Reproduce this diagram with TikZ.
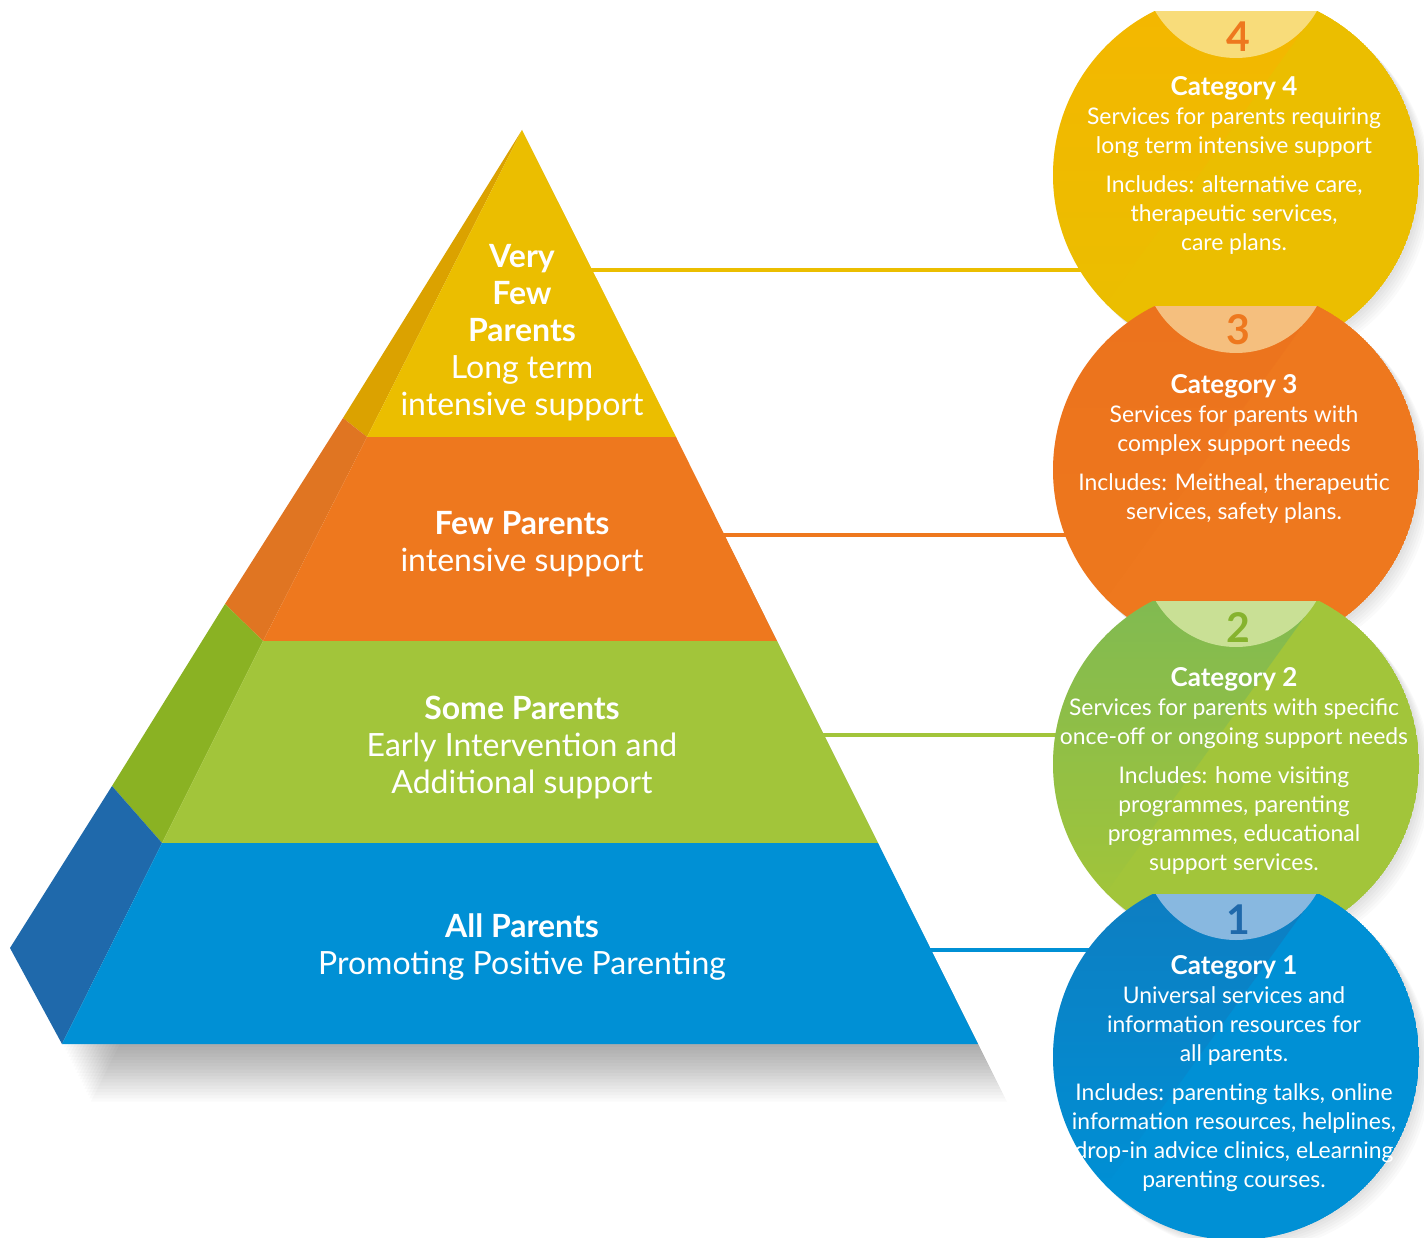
\documentclass[tikz,border=0pt]{standalone}
\usepackage{fontspec}
\setmainfont{Lato}
\usetikzlibrary{fadings}

\definecolor{yel}{HTML}{EBBE00}
\definecolor{yelside}{HTML}{DBA200}
\definecolor{yelcap}{HTML}{F8DC7A}
\definecolor{yeltint}{HTML}{FFB000}
\definecolor{ora}{HTML}{EE781E}
\definecolor{oraside}{HTML}{E07522}
\definecolor{oracap}{HTML}{F5BF7E}
\definecolor{oratint}{HTML}{E8661A}
\definecolor{gre}{HTML}{A2C53A}
\definecolor{greside}{HTML}{8AB223}
\definecolor{grecap}{HTML}{C9E095}
\definecolor{grenum}{HTML}{86B32E}
\definecolor{gretint}{HTML}{5AAE6E}
\definecolor{blu}{HTML}{0090D5}
\definecolor{bluside}{HTML}{1F69AB}
\definecolor{blucap}{HTML}{88B8E0}

\begin{document}
\begin{tikzpicture}[x=1pt, y=-1pt,
   tier/.style={font=\fontsize{32}{37}\selectfont, text=white, align=center, inner sep=0pt, anchor=north},
   heading/.style={font=\fontsize{26}{29}\selectfont\bfseries, text=white, inner sep=0pt, anchor=base},
   blurb/.style={font=\fontsize{22.9}{29}\selectfont, text=white, align=center, inner sep=0pt, anchor=north},
   num/.style={font=\fontsize{41}{41}\selectfont\bfseries, inner sep=0pt},
   link/.style={line width=4pt},
   shade/.style={fill=black, opacity=0.02},
   tint/.style={path fading=south, opacity=0.45}]
   \useasboundingbox (0,0) rectangle (1424,1238);
   \fill[white] (0,0) rectangle (1424,1238);

   % Pyramid corners
   \coordinate (apex) at (522,130);
   \coordinate (b1) at (367,437);
   \coordinate (b2) at (263,641);
   \coordinate (b3) at (162,843);
   \coordinate (bl) at (62,1044);
   \coordinate (r1) at (676,437);
   \coordinate (r2) at (777,641);
   \coordinate (r3) at (878,843);
   \coordinate (br) at (978,1044);
   \coordinate (s1) at (343,418);
   \coordinate (s2) at (225,604);
   \coordinate (s3) at (112,786);
   \coordinate (s4) at (10,948);

   % Circle centres
   \coordinate (cat4) at (1236,175);
   \coordinate (cat3) at (1236,470);
   \coordinate (cat2) at (1236,764);
   \coordinate (cat1) at (1236,1057);

   % Pyramid shadow
   \foreach \k in {1,...,18}
      \fill[shade] (522+\k*1.6,130+\k*3.2) -- (978+\k*1.6,1044+\k*3.2) -- (62+\k*1.6,1044+\k*3.2) -- cycle;

   % Links from the tiers to the circles
   \coordinate (l4) at (590,270);
   \coordinate (l3) at (722,535);
   \coordinate (l2) at (822,735);
   \coordinate (l1) at (929,950);
   \draw[link, yel] (l4) -- (l4 -| cat4);
   \draw[link, ora] (l3) -- (l3 -| cat3);
   \draw[link, gre] (l2) -- (l2 -| cat2);
   \draw[link, blu] (l1) -- (l1 -| cat1);

   % Side faces
   \fill[yelside] (apex) -- (s1) -- (b1) -- cycle;
   \fill[oraside] (s1) -- (s2) -- (b2) -- (b1) -- cycle;
   \fill[greside] (s2) -- (s3) -- (b3) -- (b2) -- cycle;
   \fill[bluside] (s3) -- (s4) -- (bl) -- (b3) -- cycle;

   % Front tiers
   \fill[yel] (apex) -- (r1) -- (b1) -- cycle;
   \fill[ora] (b1) -- (r1) -- (r2) -- (b2) -- cycle;
   \fill[gre] (b2) -- (r2) -- (r3) -- (b3) -- cycle;
   \fill[blu] (b3) -- (r3) -- (br) -- (bl) -- cycle;

   % Tier labels
   \node[tier] (t4) at (522,244) {\textbf{Very}\\\textbf{Few}\\\textbf{Parents}\\Long term\\intensive support};
   \node[tier] (t3) at (522,511) {\textbf{Few Parents}\\intensive support};
   \node[tier] (t2) at (522,696) {\textbf{Some Parents}\\Early Intervention and\\Additional support};
   \node[tier] (t1) at (522,914) {\textbf{All Parents}\\Promoting Positive Parenting};

   % Category 4
   \begin{scope}
      \clip (1040,12) rectangle (1424,1238);
      \foreach \k in {2,4,...,12} \fill[shade] (1236+\k,175+\k) circle (183);
      \clip (cat4) circle (183);
      \fill[yel] (cat4) circle (183);
      \fill[yeltint, tint] (1316,12) -- (1100,312) -- (1040,312) -- (1040,12) -- cycle;
      \fill[yelcap] (1236,-35) circle (93);
   \end{scope}
   \node[num, text=ora] (n4) at (1238,37) {4};
   \node[heading] (h4) at (1234,96) {Category 4};
   \node[blurb] (d4) at (1234,108) {Services for parents requiring\\long term intensive support\\[10pt]Includes: alternative care,\\therapeutic services,\\care plans.};

   % Category 3
   \begin{scope}
      \clip (1040,307) rectangle (1424,1238);
      \foreach \k in {2,4,...,12} \fill[shade] (1236+\k,470+\k) circle (183);
      \clip (cat3) circle (183);
      \fill[ora] (cat3) circle (183);
      \fill[oratint, tint, opacity=0.25] (1316,307) -- (1100,607) -- (1040,607) -- (1040,307) -- cycle;
      \fill[oracap] (1236,260) circle (93);
   \end{scope}
   \node[num, text=ora] (n3) at (1238,330) {3};
   \node[heading] (h3) at (1234,393) {Category 3};
   \node[blurb] (d3) at (1234,405) {Services for parents with\\complex support needs\\[10pt]Includes: Meitheal, therapeutic\\services, safety plans.};

   % Category 2
   \begin{scope}
      \clip (1040,601) rectangle (1424,1238);
      \foreach \k in {2,4,...,12} \fill[shade] (1236+\k,764+\k) circle (183);
      \clip (cat2) circle (183);
      \fill[gre] (cat2) circle (183);
      \fill[gretint, tint] (1316,601) -- (1100,901) -- (1040,901) -- (1040,601) -- cycle;
      \fill[grecap] (1236,554) circle (93);
   \end{scope}
   \node[num, text=grenum] (n2) at (1238,628) {2};
   \node[heading] (h2) at (1234,686) {Category 2};
   \node[blurb] (d2) at (1234,698) {Services for parents with specific\\once-off or ongoing support needs\\[10pt]Includes: home visiting\\programmes, parenting\\programmes, educational\\support services.};

   % Category 1
   \begin{scope}
      \clip (1040,894) rectangle (1424,1238);
      \foreach \k in {2,4,...,12} \fill[shade] (1236+\k,1057+\k) circle (183);
      \clip (cat1) circle (183);
      \fill[blu] (cat1) circle (183);
      \fill[bluside, tint] (1316,894) -- (1100,1194) -- (1040,1194) -- (1040,894) -- cycle;
      \fill[blucap] (1236,847) circle (93);
   \end{scope}
   \node[num, text=bluside] (n1) at (1238,920) {1};
   \node[heading] (h1) at (1234,974) {Category 1};
   \node[blurb] (d1) at (1234,986) {Universal services and\\information resources for\\all parents.\\[10pt]Includes: parenting talks, online\\information resources, helplines,\\drop-in advice clinics, eLearning\\parenting courses.};
\end{tikzpicture}
\end{document}
